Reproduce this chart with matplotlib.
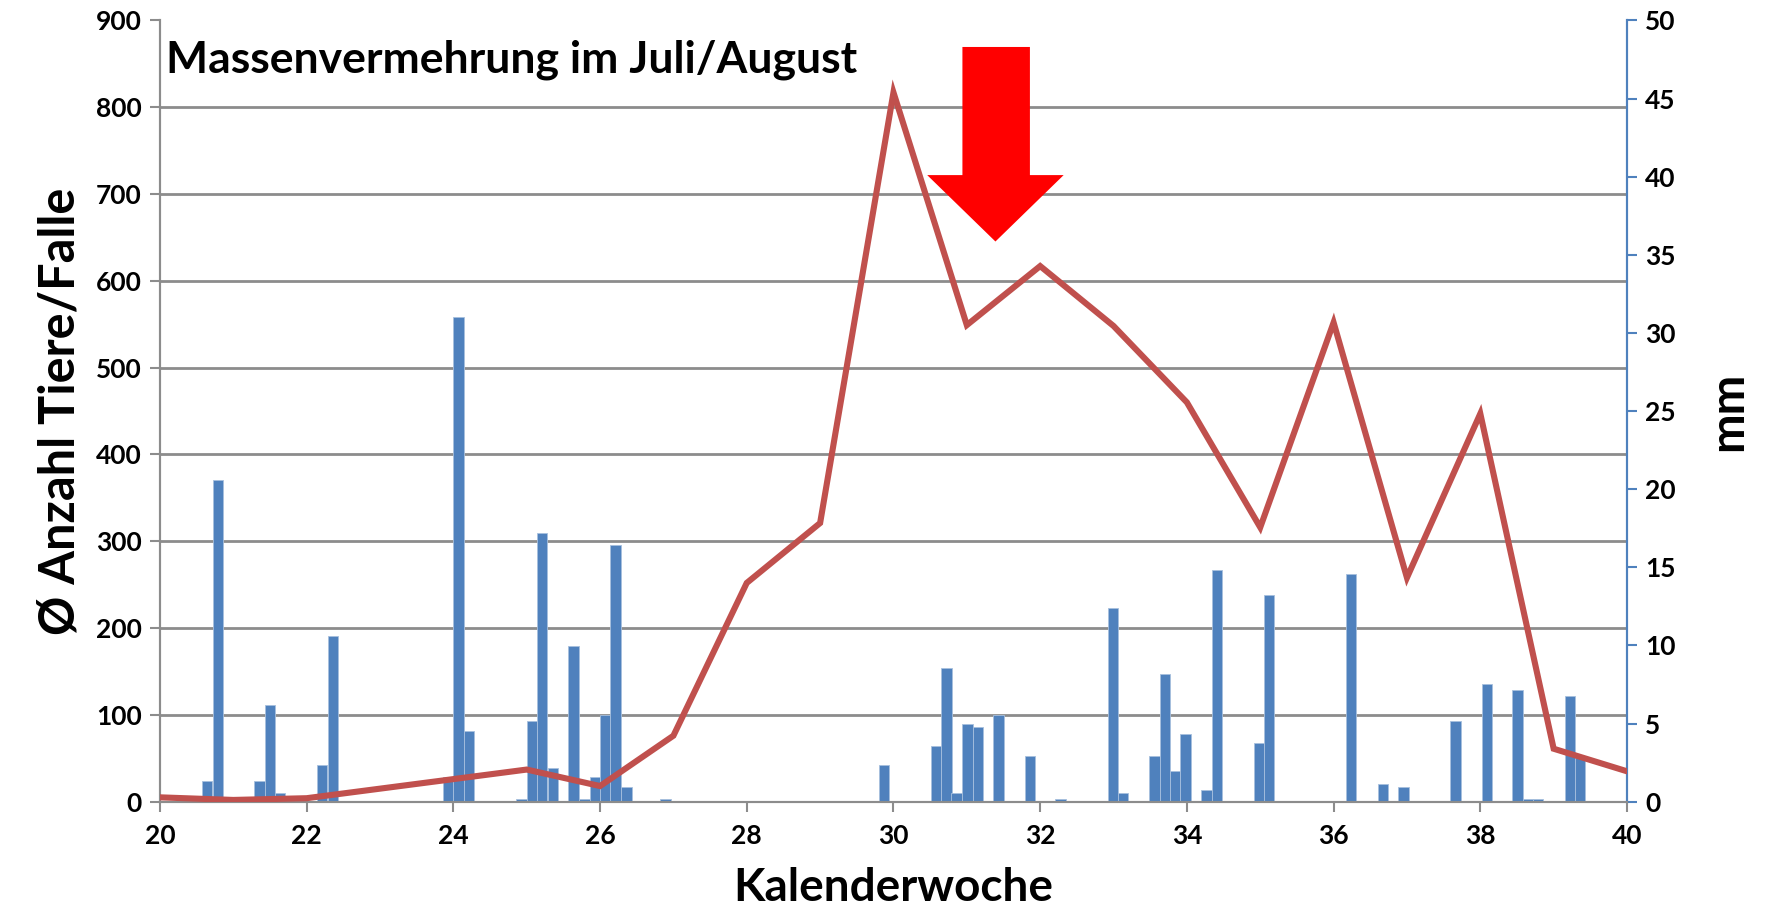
import numpy as np
import matplotlib
matplotlib.use("Agg")
import matplotlib.pyplot as plt
from matplotlib.patches import Polygon

plt.rcParams['font.family'] = ['Lato', 'DejaVu Sans']
plt.rcParams['font.weight'] = 'bold'

# mean number of animals per trap, per calendar week (left axis)
weeks = [20, 21, 22, 23, 24, 25, 26, 27, 28, 29, 30,
         31, 32, 33, 34, 35, 36, 37, 38, 39, 40]
animals = [5, 2, 4, 15, 26, 37, 18, 76, 252, 321, 817,
           549, 617, 548, 460, 316, 552, 258, 447, 61, 35]

# daily precipitation in mm (right axis), position in calendar weeks
rain_pos = [20.64, 20.79, 21.36, 21.50, 21.64, 22.21, 22.36,
            23.93, 24.07, 24.21, 24.93, 25.07, 25.21, 25.36,
            25.64, 25.79, 25.93, 26.07, 26.21, 26.36, 26.89,
            29.87, 30.58, 30.72, 30.86, 31.01, 31.15, 31.43,
            31.86, 32.28, 32.99, 33.13, 33.56, 33.70, 33.84,
            33.98, 34.27, 34.41, 34.98, 35.12, 36.24, 36.67,
            36.95, 37.66, 38.09, 38.51, 38.65, 38.79, 39.22, 39.36]
rain_mm = [1.3, 20.6, 1.3, 6.2, 0.55, 2.35, 10.6,
           1.55, 31.0, 4.55, 0.2, 5.15, 17.2, 2.15,
           9.95, 0.15, 1.55, 5.55, 16.4, 0.95, 0.2,
           2.35, 3.55, 8.55, 0.55, 4.95, 4.75, 5.55,
           2.95, 0.15, 12.4, 0.55, 2.95, 8.15, 1.95,
           4.35, 0.75, 14.8, 3.75, 13.2, 14.6, 1.15,
           0.95, 5.15, 7.55, 7.15, 0.15, 0.15, 6.75, 2.8]

x_ticks = np.arange(20, 41, 2)
left_ticks = np.arange(0, 901, 100)
right_ticks = np.arange(0, 51, 5)

title = "Massenvermehrung im Juli/August"

BLUE = '#4F81BD'
RED = '#C0504D'
GRID = '#8C8C8C'

fig = plt.figure(figsize=(17.71, 9.11), dpi=100)
ax = fig.add_axes([0.0903, 0.12, 0.8284, 0.8576])
ax2 = ax.twinx()
ax.set_zorder(2)
ax2.set_zorder(1)
ax.patch.set_visible(False)

# bars on the secondary axis
ax2.bar(rain_pos, rain_mm, width=1 / 7, color=BLUE,
        edgecolor='#A7C0DE', linewidth=0.6, zorder=3)
ax2.set_ylim(0, 50)
ax2.set_yticks(right_ticks)
# horizontal gridlines at the left-axis steps, drawn behind the bars
ax2.set_yticks(left_ticks[1:] * 50 / 900, minor=True)
ax2.grid(which='minor', axis='y', color=GRID, linewidth=2, zorder=0)
ax2.tick_params(axis='y', which='minor', length=0)
ax2.tick_params(axis='y', which='major', colors=BLUE, labelcolor='black',
                labelsize=19, length=7, width=1.5, direction='out', pad=6)
ax2.set_ylabel("mm", fontsize=34, fontweight='bold', labelpad=22)

# line on the primary axis
ax.plot(weeks, animals, color=RED, linewidth=4.4, zorder=4,
        solid_joinstyle='miter')
ax.set_xlim(20, 40)
ax.set_ylim(0, 900)
ax.set_xticks(x_ticks)
ax.set_yticks(left_ticks)
ax.tick_params(axis='both', colors=GRID, labelcolor='black', labelsize=19,
               length=7, width=1.5, direction='out')
ax.tick_params(axis='y', pad=6)
ax.tick_params(axis='x', pad=9)
ax.set_xlabel("Kalenderwoche", fontsize=33, fontweight='bold', labelpad=14)
ax.set_ylabel("Ø Anzahl Tiere/Falle", fontsize=35, fontweight='bold',
              labelpad=10)

for a in (ax, ax2):
    for lab in a.get_xticklabels() + a.get_yticklabels():
        lab.set_fontweight('bold')
    a.spines['top'].set_visible(False)
    a.spines['left'].set_color(GRID)
    a.spines['bottom'].set_color(GRID)
    a.spines['left'].set_linewidth(1.5)
    a.spines['bottom'].set_linewidth(1.5)
    a.spines['right'].set_color(BLUE)
    a.spines['right'].set_linewidth(1.5)

ax.text(0.004, 0.95, title, transform=ax.transAxes, fontsize=32,
        fontweight='bold', va='center', ha='left', zorder=5)

# red block arrow pointing down (annotation)
arrow = [(0.547, 0.966), (0.593, 0.966), (0.593, 0.802), (0.616, 0.802),
         (0.5695, 0.717), (0.523, 0.802), (0.547, 0.802)]
ax.add_patch(Polygon(arrow, closed=True, transform=ax.transAxes,
                     facecolor='#FF0000', edgecolor='none', zorder=6))

fig.savefig("out.png", dpi=100)
